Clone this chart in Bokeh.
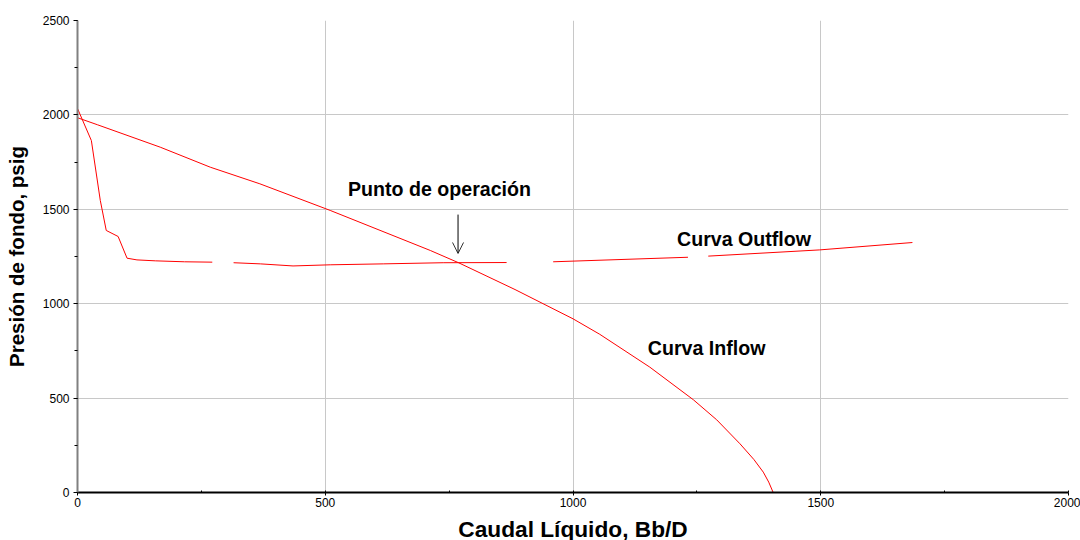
from bokeh.plotting import figure
from bokeh.models import Range1d, SingleIntervalTicker, Label, Arrow, OpenHead
from bokeh.embed import file_html
from bokeh.resources import INLINE

nan = float("nan")

# Curva Inflow (IPR)
inflow_q = [0, 40, 167, 268, 368, 510, 712, 769, 883, 1000, 1054, 1155, 1243, 1290, 1337, 1365, 1384, 1395, 1404]
inflow_p = [1985, 1948, 1829, 1723, 1635, 1494, 1282, 1217, 1075, 920, 838, 664, 491, 385, 258, 175, 108, 55, 0]

# Curva Outflow (with gaps as drawn in the original)
outflow_q = [0, 28, 46, 58, 82, 100, 120, 157, 216, 272, nan, 315, 369, 435, 510, 617, 738, 866, nan,
             960, 1232, nan, 1273, 1498, 1685]
outflow_p = [2034, 1864, 1547, 1388, 1356, 1241, 1232, 1227, 1222, 1220, nan, 1217, 1211, 1200, 1206, 1211, 1217, 1218, nan,
             1222, 1246, nan, 1252, 1285, 1324]

# operating point arrow
arrow_q = [768, 768]
arrow_p = [1472, 1266]

x_label = "Caudal Líquido, Bb/D"
y_label = "Presión de fondo, psig"

p = figure(frame_width=991, frame_height=472, x_range=Range1d(0, 2000), y_range=Range1d(0, 2500),
           output_backend="svg", toolbar_location=None,
           min_border_left=77, min_border_right=12, min_border_top=20, min_border_bottom=48)
p.outline_line_color = None
p.background_fill_color = "white"
p.border_fill_color = "white"

p.xaxis.ticker = SingleIntervalTicker(interval=500, num_minor_ticks=2)
p.yaxis.ticker = SingleIntervalTicker(interval=500, num_minor_ticks=2)

p.xgrid.grid_line_color = "#c8c8c8"
p.ygrid.grid_line_color = "#c8c8c8"
p.xgrid.grid_line_width = 1
p.ygrid.grid_line_width = 1

for ax in (p.xaxis, p.yaxis):
    ax.major_label_text_font = "Liberation Sans"
    ax.major_label_text_font_size = "12px"
    ax.major_label_text_color = "#000000"
    ax.axis_label_text_font = "Liberation Sans"
    ax.axis_label_text_font_style = "bold"
    ax.axis_label_text_color = "#000000"
    ax.major_tick_line_color = "#000000"
    ax.minor_tick_line_color = "#000000"

p.xaxis.axis_label = x_label
p.yaxis.axis_label = y_label
p.xaxis.axis_label_text_font_size = "22.7px"
p.yaxis.axis_label_text_font_size = "20.5px"

p.yaxis.axis_line_color = "#808080"
p.yaxis.axis_line_width = 2
p.yaxis.major_tick_out = 4
p.yaxis.major_tick_in = 0
p.yaxis.minor_tick_out = 3
p.yaxis.minor_tick_in = 0
p.yaxis.major_label_standoff = 4
p.yaxis.axis_label_standoff = 12

p.xaxis.axis_line_color = "#000000"
p.xaxis.axis_line_width = 2
p.xaxis.major_tick_out = 3
p.xaxis.major_tick_in = 0
p.xaxis.minor_tick_out = 0
p.xaxis.minor_tick_in = 2
p.xaxis.major_label_standoff = 2
p.xaxis.axis_label_standoff = 6

p.line(outflow_q, outflow_p, line_color="#ff0000", line_width=1)
p.line(inflow_q, inflow_p, line_color="#ff0000", line_width=1)

p.add_layout(Arrow(end=OpenHead(size=11, line_color="#333333", line_width=1),
                   x_start=arrow_q[0], y_start=arrow_p[0], x_end=arrow_q[1], y_end=arrow_p[1],
                   line_color="#000000", line_width=1))

for txt, x, y in [("Punto de operación", 546, 1605), ("Curva Outflow", 1210, 1345), ("Curva Inflow", 1151, 768)]:
    p.add_layout(Label(x=x, y=y, text=txt, text_font="Liberation Sans", text_font_style="bold",
                       text_font_size="19.6px", text_color="#000000", text_baseline="middle", text_align="left"))

open("out.html", "w").write(file_html(p, INLINE))
